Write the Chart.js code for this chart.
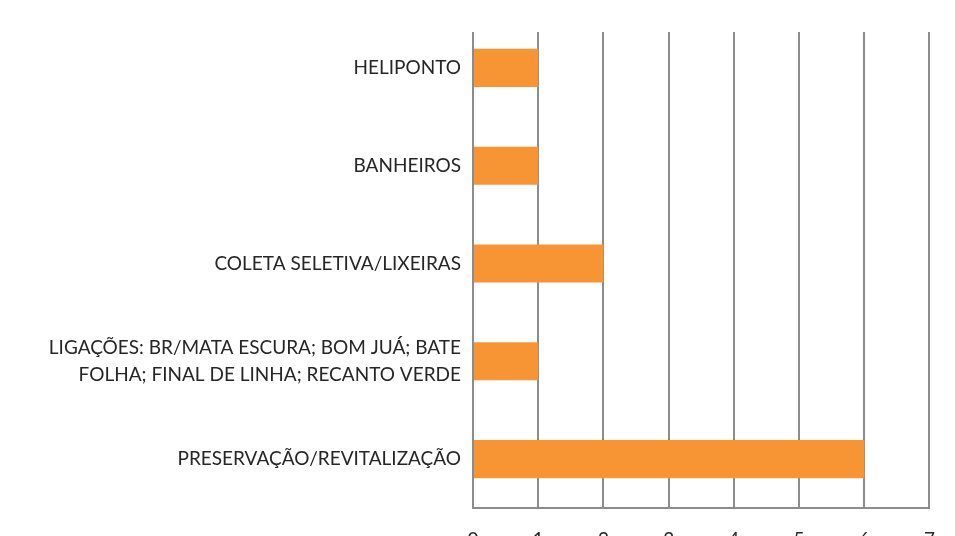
<!DOCTYPE html>
<html>
<head>
<meta charset="utf-8">
<script src="https://cdn.jsdelivr.net/npm/chart.js"></script>
<style>
  html, body { margin: 0; padding: 0; background: #fff; overflow: hidden; }
  .wrap { width: 955px; height: 536px; overflow: hidden; }
</style>
</head>
<body>
<div class="wrap">
  <canvas id="bars" width="955" height="560"></canvas>
</div>
<script>
const categories = [
  'HELIPONTO',
  'BANHEIROS',
  'COLETA SELETIVA/LIXEIRAS',
  ['LIGAÇÕES: BR/MATA ESCURA; BOM JUÁ; BATE', 'FOLHA; FINAL DE LINHA; RECANTO VERDE'],
  'PRESERVAÇÃO/REVITALIZAÇÃO'
];
const counts = [1, 1, 2, 1, 6];
const xTicks = [0, 1, 2, 3, 4, 5, 6, 7];

const gridGray = '#8c8c8c';
const textColor = '#262626';

// the grid in the original starts a bit below the plot top
const topGap = {
  id: 'topGap',
  beforeDatasetsDraw(chart) {
    const { ctx, chartArea } = chart;
    ctx.save();
    ctx.fillStyle = '#fff';
    ctx.fillRect(chartArea.left - 2, chartArea.top - 2, chartArea.right - chartArea.left + 4, 15);
    ctx.restore();
  }
};

new Chart(document.getElementById('bars').getContext('2d'), {
  type: 'bar',
  data: {
    labels: categories,
    datasets: [{
      data: counts,
      backgroundColor: '#F79535',
      borderWidth: 0,
      barPercentage: 0.39,
      categoryPercentage: 1
    }]
  },
  options: {
    indexAxis: 'y',
    responsive: false,
    animation: false,
    layout: { padding: { top: 19, right: 23, left: 0, bottom: 0 } },
    plugins: {
      legend: { display: false },
      tooltip: { enabled: false }
    },
    scales: {
      x: {
        min: xTicks[0],
        max: xTicks[xTicks.length - 1],
        afterBuildTicks: (scale) => { scale.ticks = xTicks.map(v => ({ value: v })); },
        afterFit: (scale) => { scale.height = 52; },
        grid: { color: gridGray, lineWidth: 2, drawTicks: false },
        border: { display: true, color: gridGray, width: 2 },
        ticks: { color: textColor, font: { family: 'Lato', size: 19 }, padding: 20 }
      },
      y: {
        afterFit: (scale) => {
          scale.width = 473;
          scale.paddingTop = 0;
          scale.paddingBottom = 0;
        },
        grid: { display: false, drawTicks: false },
        border: { display: true, color: gridGray, width: 2 },
        ticks: { color: textColor, font: { family: 'Lato', size: 19, lineHeight: 1.42 }, padding: 12 }
      }
    }
  },
  plugins: [topGap]
});
</script>
</body>
</html>
